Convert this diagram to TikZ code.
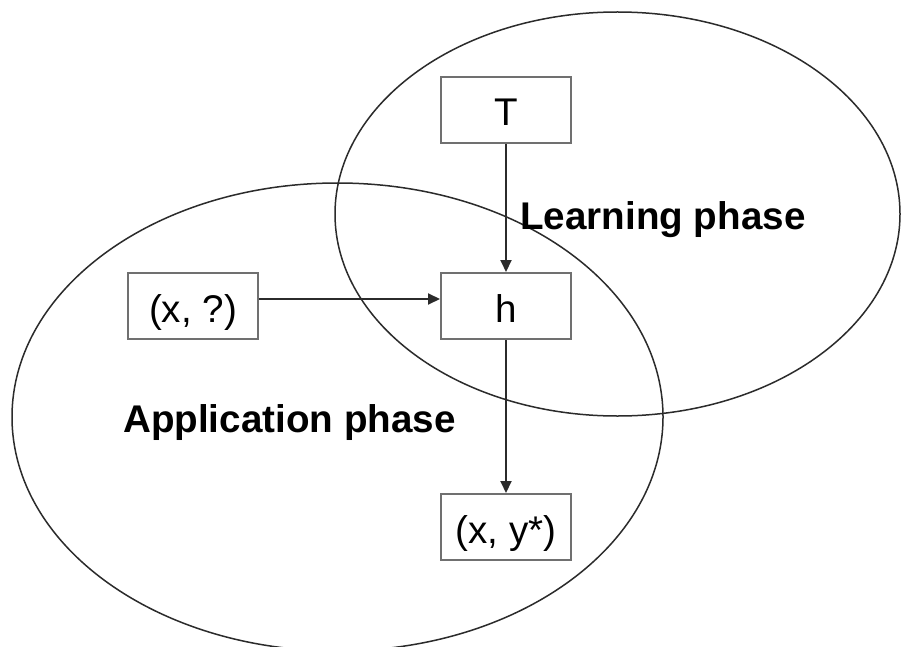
\documentclass[tikz,border=0pt]{standalone}
\usepackage{fontspec}
\setmainfont{Liberation Sans}
\usetikzlibrary{arrows.meta}
\definecolor{linegray}{HTML}{2B2B2B}
\definecolor{boxgray}{HTML}{707070}
\tikzset{
  phase/.style={draw=linegray, line width=1.5pt},
  stagebox/.style={draw=boxgray, line width=2pt, minimum width=130pt, minimum height=66pt,
    inner sep=0pt, text height=32pt, text depth=0pt,
    font=\fontsize{38.6}{46}\selectfont},
  phaselabel/.style={anchor=base west, inner sep=0pt,
    font=\fontsize{38.6}{46}\selectfont\bfseries},
  flow/.style={draw=linegray, line width=2pt, -{Triangle[length=12pt,width=11pt]}}
}
\begin{document}
\begin{tikzpicture}[x=1pt, y=-1pt]
  \useasboundingbox (0,0) rectangle (901,647);
  \fill[white] (0,0) rectangle (901,647);

  % the two overlapping phases
  \draw[phase] (617.5,214) ellipse [x radius=282.5, y radius=202];
  \draw[phase] (337.5,417) ellipse [x radius=325.5, y radius=234];

  \node[phaselabel] (learn) at (520,229) {Learning phase};
  \node[phaselabel] (apply) at (123,432) {Application phase};

  % boxes
  \node[stagebox] (T)   at (506,110) {T};
  \node[stagebox] (h)   at (506,306) {h};
  \node[stagebox] (xq)  at (193,306) {(x, ?)};
  \node[stagebox] (xy)  at (506,527) {(x, y*)};

  % connectors
  \draw[flow] (T.south) -- (h.north);
  \draw[flow] ([yshift=7pt]xq.east) -- ([yshift=7pt]h.west);
  \draw[flow] (h.south) -- (xy.north);
\end{tikzpicture}
\end{document}
